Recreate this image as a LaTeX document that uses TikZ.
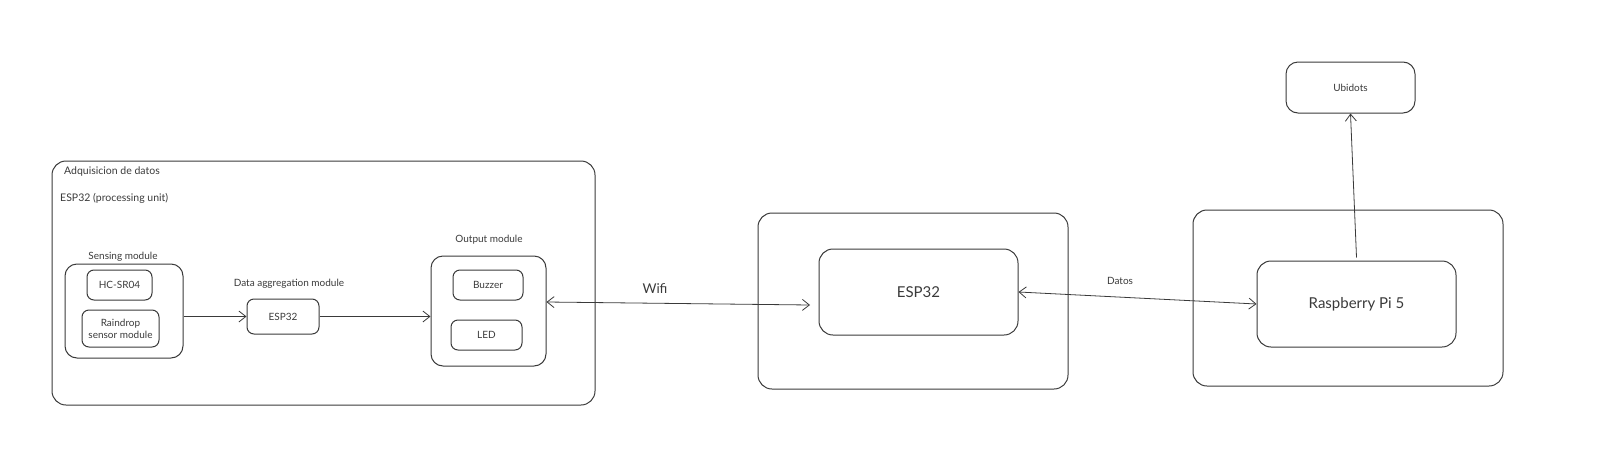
\documentclass[tikz,border=0pt]{standalone}
\usepackage{fontspec}
\setmainfont{Lato}
\usetikzlibrary{arrows.meta,positioning}
\definecolor{ink}{HTML}{3A3A3A}
\tikzset{
  box/.style={draw=ink, line width=1pt, rounded corners=#1, inner sep=0pt, align=center, text=ink},
  box/.default=8pt,
  lbl/.style={text=ink, inner sep=0pt},
  conn/.style={draw=ink, line width=0.8pt, {Straight Barb[length=7pt,width=11pt]}-{Straight Barb[length=7pt,width=11pt]}},
  fwd/.style={draw=ink, line width=0.8pt, -{Straight Barb[length=7pt,width=11pt]}},
}
\begin{document}
\begin{tikzpicture}[x=1pt,y=-1pt]
\useasboundingbox (0,0) rectangle (1600,466);
% left group
\node[box=14pt, minimum width=543pt, minimum height=244pt] (adq) at (323.5,283) {};
\node[lbl, anchor=west, font=\fontsize{10.5}{12}\selectfont] (adqt) at (64,172) {Adquisicion de datos};
\node[lbl, anchor=west, font=\fontsize{10.5}{12}\selectfont] (espu) at (60,198) {ESP32 (processing unit)};

\node[box=12pt, minimum width=118pt, minimum height=94pt] (sens) at (124,311) {};
\node[lbl, font=\fontsize{10}{12}\selectfont] (senst) at (123,257) {Sensing module};
\node[box=7pt, minimum width=65pt, minimum height=30pt, font=\fontsize{10}{12}\selectfont] (hc) at (119.5,285) {HC-SR04};
\node[box=7pt, minimum width=77pt, minimum height=37pt, font=\fontsize{10}{12}\selectfont] (rain) at (120.5,328.5) {Raindrop\\sensor module};

\node[lbl, font=\fontsize{10}{12}\selectfont] (aggt) at (289,284) {Data aggregation module};
\node[box=7pt, minimum width=72pt, minimum height=35pt, font=\fontsize{10}{12}\selectfont] (agg) at (283,316.5) {ESP32};

\node[lbl, font=\fontsize{10}{12}\selectfont] (outt) at (489,240) {Output module};
\node[box=12pt, minimum width=115pt, minimum height=110pt] (out) at (488.5,311) {};
\node[box=7pt, minimum width=70pt, minimum height=30pt, font=\fontsize{10}{12}\selectfont] (buz) at (488,285) {Buzzer};
\node[box=7pt, minimum width=71pt, minimum height=30pt, font=\fontsize{10}{12}\selectfont] (led) at (486.5,335) {LED};

% middle
\node[box=14pt, minimum width=310pt, minimum height=176pt] (mid) at (913,301) {};
\node[box=14pt, minimum width=199pt, minimum height=86pt, font=\fontsize{15}{18}\selectfont] (esp) at (918.5,292) {ESP32};

% right
\node[box=14pt, minimum width=310pt, minimum height=176pt] (right) at (1348,298) {};
\node[box=14pt, minimum width=199pt, minimum height=86pt, font=\fontsize{15}{18}\selectfont] (rpi) at (1356.5,304) {Raspberry Pi 5};
\node[box=12pt, minimum width=129pt, minimum height=51pt, font=\fontsize{10}{12}\selectfont] (ubi) at (1350.5,87.5) {Ubidots};

% connectors
\draw[fwd] (sens.east |- agg.west) -- (agg.west);
\draw[fwd] (agg.east) -- (out.west |- agg.east);
\coordinate (wifiend) at (810,305);
\draw[conn] ([yshift=9pt]out.east) -- (wifiend);
\node[lbl, font=\fontsize{13.5}{16}\selectfont] (wifit) at (655,289) {Wifi};
\draw[conn] (esp.east) -- (rpi.west);
\node[lbl, font=\fontsize{10}{12}\selectfont] (datost) at (1120,281) {Datos};
\draw[fwd] ([yshift=3pt]rpi.north) -- (ubi.south);
\end{tikzpicture}
\end{document}
